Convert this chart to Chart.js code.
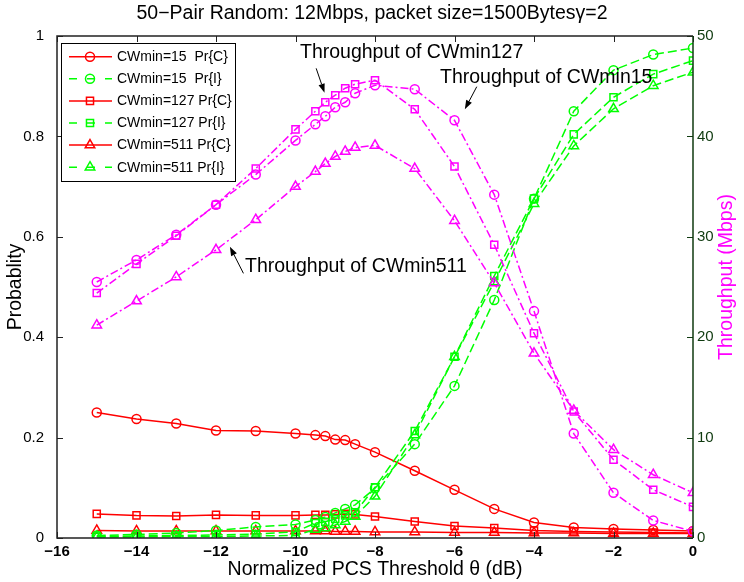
<!DOCTYPE html>
<html><head><meta charset="utf-8">
<script src="https://cdn.jsdelivr.net/npm/chart.js@4.4.0/dist/chart.umd.min.js"></script>
<style>html,body{margin:0;padding:0;background:#fff}#wrap{width:744px;height:582px}</style>
</head><body><div id="wrap"><canvas id="c" width="744" height="582"></canvas></div>
<script>
// ---- data ----
const thetaDb = [-15,-14,-13,-12,-11,-10,-9.5,-9.25,-9,-8.75,-8.5,-8,-7,-6,-5,-4,-3,-2,-1,0];
const prC_cw15  = [0.250,0.237,0.228,0.214,0.213,0.208,0.205,0.203,0.196,0.195,0.187,0.171,0.134,0.096,0.058,0.031,0.021,0.018,0.016,0.014];
const prI_cw15  = [0.005,0.007,0.010,0.015,0.022,0.027,0.036,0.042,0.050,0.058,0.066,0.099,0.187,0.303,0.474,0.676,0.850,0.932,0.963,0.976];
const prC_cw127 = [0.048,0.045,0.044,0.046,0.045,0.045,0.046,0.046,0.047,0.048,0.047,0.043,0.033,0.024,0.020,0.015,0.013,0.012,0.011,0.010];
const prI_cw127 = [0.003,0.004,0.005,0.006,0.008,0.012,0.030,0.032,0.038,0.045,0.051,0.101,0.213,0.361,0.522,0.676,0.804,0.878,0.924,0.951];
const prC_cw511 = [0.015,0.014,0.014,0.014,0.014,0.014,0.014,0.014,0.013,0.013,0.013,0.012,0.012,0.011,0.011,0.010,0.010,0.009,0.009,0.009];
const prI_cw511 = [0.002,0.002,0.003,0.003,0.004,0.005,0.017,0.020,0.026,0.033,0.043,0.083,0.205,0.361,0.510,0.666,0.781,0.855,0.901,0.928];
const thr_cw15  = [25.5,27.7,30.2,33.2,36.2,39.6,41.2,42.0,42.9,43.4,44.3,45.1,44.7,41.6,34.2,22.6,10.4,4.5,1.75,0.66];
const thr_cw127 = [24.4,27.3,30.1,33.2,36.8,40.7,42.5,43.4,44.1,44.8,45.2,45.6,42.7,37.0,29.2,20.4,12.6,7.8,4.8,3.1];
const thr_cw511 = [21.2,23.6,26.0,28.7,31.7,35.0,36.5,37.3,38.0,38.5,38.9,39.1,36.8,31.6,25.4,18.4,12.7,8.8,6.3,4.5];
const xTicks = [-16,-14,-12,-10,-8,-6,-4,-2,0];
const yTicks = [0,0.2,0.4,0.6,0.8,1];
const y2Ticks = [0,10,20,30,40,50];
const labels = ['CWmin=15  Pr{C}','CWmin=15  Pr{I}','CWmin=127 Pr{C}','CWmin=127 Pr{I}','CWmin=511 Pr{C}','CWmin=511 Pr{I}'];
const titleText = '50\u2212Pair Random: 12Mbps, packet size=1500Bytes\u03B3=2';
const annotations = [
  {text:'Throughput of CWmin127', tx:-9.887, ty:47.78, ax0:-9.48, ay0:46.78, ax1:-9.27, ay1:44.35},
  {text:'Throughput of CWmin15',  tx:-6.365, ty:45.35, ax0:-5.44, ay0:44.95, ax1:-5.74, ay1:42.70},
  {text:'Throughput of CWmin511', tx:-11.27, ty:26.46, ax0:-11.31, ay0:26.36, ax1:-11.65, ay1:29.01}
];

const FONT = "'Liberation Sans', Arial, Helvetica, sans-serif";
const RED='#ff0000', GREEN='#00ff00', MAG='#ff00ff', AXG='#0f3a0f';
const pts = arr => arr.map((v,i)=>({x:thetaDb[i], y:v}));
const DASH=[9,4], DASHDOT=[8,3,2,3];
function ds(label, arr, color, style, dash, axis, r, order){
  return {label, data:pts(arr), borderColor:color, backgroundColor:'rgba(0,0,0,0)',
    borderWidth:1.5, borderDash:dash, pointStyle:style, pointRadius:r, pointHoverRadius:r,
    pointBorderColor:color, pointBackgroundColor:'rgba(0,0,0,0)', pointBorderWidth:1.5,
    yAxisID:axis, tension:0, order, fill:false};
}
const datasets = [
  ds(labels[0], prC_cw15, RED, 'circle', [], 'y', 4.5, 2),
  ds(labels[1], prI_cw15, GREEN, 'circle', DASH, 'y', 4.5, 1),
  ds(labels[2], prC_cw127, RED, 'rect', [], 'y', 5, 2),
  ds(labels[3], prI_cw127, GREEN, 'rect', DASH, 'y', 5, 1),
  ds(labels[4], prC_cw511, RED, 'triangle', [], 'y', 5.5, 2),
  ds(labels[5], prI_cw511, GREEN, 'triangle', DASH, 'y', 5.5, 1),
  ds('Throughput CWmin15', thr_cw15, MAG, 'circle', DASHDOT, 'y2', 4.5, 0),
  ds('Throughput CWmin127', thr_cw127, MAG, 'rect', DASHDOT, 'y2', 5, 0),
  ds('Throughput CWmin511', thr_cw511, MAG, 'triangle', DASHDOT, 'y2', 5.5, 0)
];

function marker(ctx, style, x, y, r){
  ctx.beginPath();
  if (style==='circle') ctx.arc(x,y,r,0,Math.PI*2);
  else if (style==='rect'){ const s=r/Math.SQRT2; ctx.rect(x-s,y-s,2*s,2*s); }
  else { ctx.moveTo(x,y-r); ctx.lineTo(x+0.866*r,y+0.5*r); ctx.lineTo(x-0.866*r,y+0.5*r); ctx.closePath(); }
  ctx.stroke();
}

const decor = {
  id:'decor',
  afterDraw(chart){
    const ctx=chart.ctx, a=chart.chartArea, sx=chart.scales.x, sy=chart.scales.y, sy2=chart.scales.y2;
    ctx.save();
    // inward ticks
    ctx.lineWidth=1; ctx.strokeStyle='#222';
    xTicks.forEach(v=>{ const px=Math.round(sx.getPixelForValue(v))+0.5;
      ctx.beginPath(); ctx.moveTo(px,a.bottom); ctx.lineTo(px,a.bottom-6); ctx.moveTo(px,a.top); ctx.lineTo(px,a.top+6); ctx.stroke(); });
    yTicks.forEach(v=>{ const py=Math.round(sy.getPixelForValue(v))+0.5;
      ctx.beginPath(); ctx.moveTo(a.left,py); ctx.lineTo(a.left+6,py); ctx.stroke(); });
    ctx.strokeStyle=AXG;
    y2Ticks.forEach(v=>{ const py=Math.round(sy2.getPixelForValue(v))+0.5;
      ctx.beginPath(); ctx.moveTo(a.right,py); ctx.lineTo(a.right-6,py); ctx.stroke(); });
    // frame
    ctx.lineWidth=1.5; ctx.strokeStyle='#222';
    ctx.beginPath(); ctx.moveTo(a.right,a.top); ctx.lineTo(a.left,a.top); ctx.lineTo(a.left,a.bottom); ctx.lineTo(a.right,a.bottom); ctx.stroke();
    ctx.strokeStyle=AXG; ctx.beginPath(); ctx.moveTo(a.right,a.top); ctx.lineTo(a.right,a.bottom); ctx.stroke();
    // right axis title
    ctx.save(); ctx.translate(727,277); ctx.rotate(-Math.PI/2);
    ctx.fillStyle=MAG; ctx.font='19.5px '+FONT; ctx.textAlign='center'; ctx.textBaseline='middle';
    ctx.fillText('Throughput (Mbps)',0,0); ctx.restore();
    // annotations
    ctx.fillStyle='#000'; ctx.strokeStyle='#000'; ctx.lineWidth=1;
    ctx.font='19.5px '+FONT; ctx.textAlign='left'; ctx.textBaseline='alphabetic';
    annotations.forEach(an=>{
      ctx.fillText(an.text, sx.getPixelForValue(an.tx), sy2.getPixelForValue(an.ty));
      const x0=sx.getPixelForValue(an.ax0), y0=sy2.getPixelForValue(an.ay0);
      const x1=sx.getPixelForValue(an.ax1), y1=sy2.getPixelForValue(an.ay1);
      const ang=Math.atan2(y1-y0,x1-x0), L=9, W=3.2;
      const bx=x1-L*Math.cos(ang), by=y1-L*Math.sin(ang);
      ctx.beginPath(); ctx.moveTo(x0,y0); ctx.lineTo(bx,by); ctx.stroke();
      ctx.beginPath(); ctx.moveTo(x1,y1);
      ctx.lineTo(bx+W*Math.sin(ang), by-W*Math.cos(ang));
      ctx.lineTo(bx-W*Math.sin(ang), by+W*Math.cos(ang)); ctx.closePath(); ctx.fill();
    });
    // legend
    const bx0=61.5, by0=43.5, bw=174, bh=138;
    ctx.fillStyle='#fff'; ctx.fillRect(bx0,by0,bw,bh);
    ctx.strokeStyle='#000'; ctx.lineWidth=1; ctx.strokeRect(bx0,by0,bw,bh);
    ctx.font='14px '+FONT; ctx.textBaseline='middle'; ctx.textAlign='left';
    for(let i=0;i<6;i++){
      const d=chart.data.datasets[i]; const y=56.7+i*22.1;
      ctx.strokeStyle=d.borderColor; ctx.lineWidth=1.5;
      if (d.borderDash.length){ ctx.setLineDash([8,10]); } else ctx.setLineDash([]);
      ctx.beginPath(); ctx.moveTo(69,y); ctx.lineTo(112,y); ctx.stroke();
      ctx.setLineDash([]);
      marker(ctx, d.pointStyle, 90, y, d.pointRadius);
      ctx.fillStyle='#000'; ctx.fillText(d.label, 117, y+0.5);
    }
    ctx.restore();
  }
};

new Chart(document.getElementById('c'), {
  type:'line',
  data:{datasets},
  options:{
    responsive:false, animation:false, devicePixelRatio:1,
    layout:{padding:0},
    plugins:{
      legend:{display:false}, tooltip:{enabled:false},
      title:{display:true, text:titleText, color:'#000', font:{family:FONT, size:19.5, weight:'normal', lineHeight:1.2}, padding:{top:2.3,bottom:10.3}}
    },
    scales:{
      x:{type:'linear', min:-16, max:0, afterFit(s){s.height=44;},
        grid:{display:false, drawTicks:false}, border:{display:false},
        afterBuildTicks(s){ s.ticks = xTicks.map(v=>({value:v})); },
        ticks:{autoSkip:false, maxRotation:0, padding:5, color:'#000', font:{family:FONT,size:15,weight:'bold'},
          callback:v=>String(v).replace('-','\u2212')},
        title:{display:true, text:'Normalized PCS Threshold \u03B8 (dB)', color:'#000', font:{family:FONT,size:19.5}, padding:{top:0,bottom:0.3}}
      },
      y:{type:'linear', position:'left', min:0, max:1, afterFit(s){s.width=57;},
        grid:{display:false, drawTicks:false}, border:{display:false},
        afterBuildTicks(s){ s.ticks = yTicks.map(v=>({value:v})); },
        ticks:{padding:13, color:'#000', font:{family:FONT,size:15}, callback:v=>String(Math.round(v*10)/10)},
        title:{display:true, text:'Probablity', color:'#000', font:{family:FONT,size:19.5}, padding:{top:4.3,bottom:0}}
      },
      y2:{type:'linear', position:'right', min:0, max:50, afterFit(s){s.width=51;},
        grid:{display:false, drawTicks:false}, border:{display:false},
        afterBuildTicks(s){ s.ticks = y2Ticks.map(v=>({value:v})); },
        ticks:{padding:4, color:AXG, font:{family:FONT,size:15}, callback:v=>String(Math.round(v))}
      }
    }
  },
  plugins:[decor]
});
</script>
</body></html>
